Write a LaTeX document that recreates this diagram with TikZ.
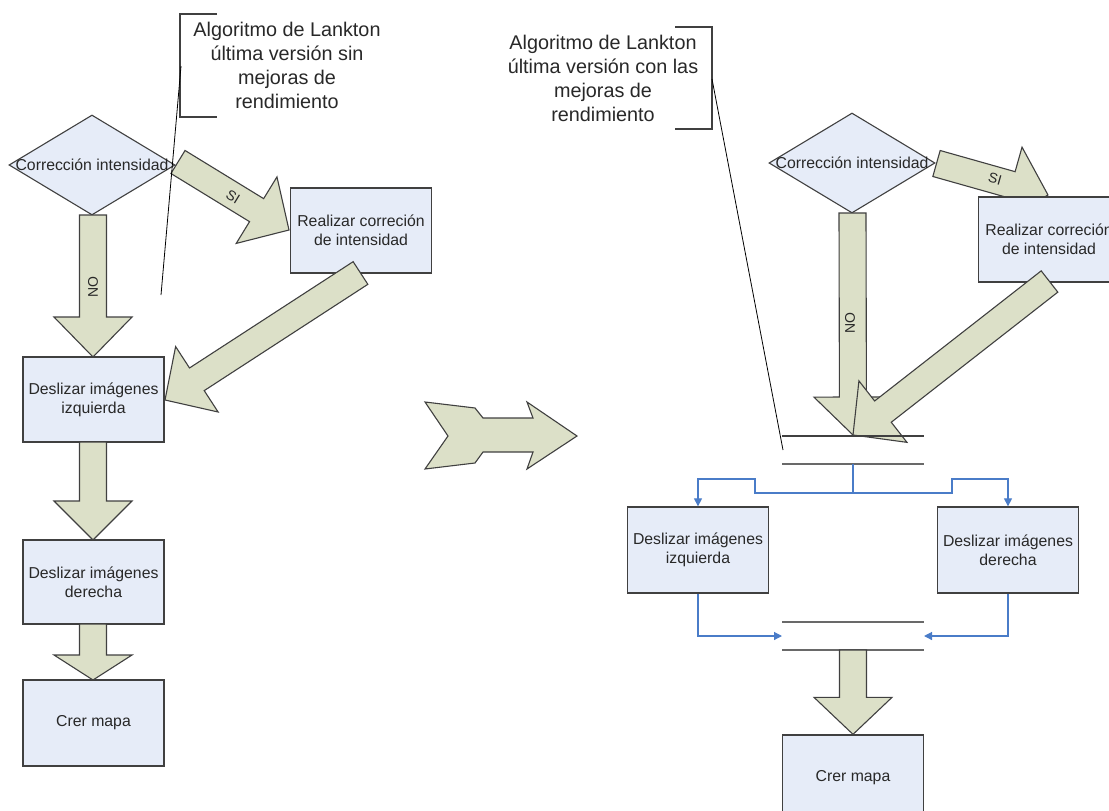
\documentclass[tikz,border=0pt]{standalone}
\usepackage{fontspec}
\setmainfont{Liberation Sans}
\usetikzlibrary{calc,shapes.geometric,arrows.meta}

\definecolor{boxfill}{RGB}{230,236,248}
\definecolor{arrowfill}{RGB}{220,224,200}
\definecolor{edge}{RGB}{64,64,64}
\definecolor{flow}{RGB}{74,124,200}
\definecolor{barcol}{RGB}{105,105,105}
\definecolor{txt}{RGB}{40,40,40}

\tikzset{
  stepbox/.style={draw=edge, line width=1.3pt, fill=boxfill, minimum width=141pt,
    minimum height=85pt, inner sep=0pt, text=txt, align=center,
    font=\fontsize{15.8}{19}\selectfont},
  decision/.style={diamond, draw=edge, line width=1.1pt, fill=boxfill,
    minimum width=166pt, minimum height=100pt, inner sep=0pt},
  decisiontext/.style={text=txt, inner sep=0pt, font=\fontsize{15.8}{19}\selectfont},
  blockarrow/.style={draw=edge, line width=1.1pt, fill=arrowfill, line join=miter},
  note/.style={text=txt, align=center, font=\fontsize{19.8}{24}\selectfont},
  armlabel/.style={text=txt, inner sep=0pt, font=\fontsize{14}{16}\selectfont},
  callout/.style={draw=black, line width=0.8pt},
  bracketline/.style={draw=edge, line width=1.3pt},
  syncbar/.style={draw=barcol, line width=1.8pt},
  flowline/.style={draw=flow, line width=1.2pt, -{Triangle[length=8pt,width=8pt]}},
}

% block arrow: [extra style]{tail}{tip}{head length}
\newcommand{\blockarrow}[4][]{%
  \coordinate (ba-h) at ($(#3)!#4!(#2)$);
  \path[blockarrow,#1]
    ($(#2)!13.5pt!90:(#3)$) -- ($(ba-h)!13.5pt!90:(#3)$) -- ($(ba-h)!39pt!90:(#3)$)
    -- (#3)
    -- ($(ba-h)!39pt!-90:(#3)$) -- ($(ba-h)!13.5pt!-90:(#3)$) -- ($(#2)!13.5pt!-90:(#3)$)
    -- cycle;}

\begin{document}
\begin{tikzpicture}[x=1pt,y=-1pt]
\path[use as bounding box, clip] (0,0) rectangle (1109,811);

% ---------------- first version (left) ----------------
\node[decision] (d1) at (92,165) {};
\node[decisiontext] (d1t) at (d1) {Corrección intensidad};
\node[stepbox] (r1) at (361,230.5) {Realizar correción\\de intensidad};
\node[stepbox] (li1) at (93.5,399.5) {Deslizar imágenes\\izquierda};
\node[stepbox, minimum height=84pt] (ld1) at (93.5,582) {Deslizar imágenes\\derecha};
\node[stepbox, minimum height=86pt] (cm1) at (93.5,723) {Crer mapa};

\coordinate (no1a) at (93,215);   \coordinate (no1b) at (93,357);
\coordinate (si1a) at (178,162);  \coordinate (si1b) at (289,230);
\coordinate (dg1a) at (360.5,273); \coordinate (dg1b) at (165,400);
\coordinate (dn1a) at (93,442);   \coordinate (dn1b) at (93,540);
\coordinate (dn2a) at (93,624);   \coordinate (dn2b) at (93,680);

\blockarrow{no1a}{no1b}{40pt}
\blockarrow{si1a}{si1b}{38pt}
\blockarrow{dg1a}{dg1b}{38pt}
\blockarrow{dn1a}{dn1b}{39pt}
\blockarrow{dn2a}{dn2b}{25pt}

\node[armlabel, rotate=90] (no1l) at (93,287) {NO};
\node[armlabel, rotate=-31.5] (si1l) at (233,197) {SI};

\draw[bracketline] (217,14) -- (180,14) -- (180,117) -- (217,117);
\node[note] (n1) at (287,65) {Algoritmo de Lankton\\última versión sin\\mejoras de\\rendimiento};
\coordinate (c1a) at (181,66); \coordinate (c1b) at (161,295);
\draw[callout] (c1a) -- (c1b);

% ---------------- transition arrow ----------------
\path[blockarrow] (425,402) -- (475,408) -- (483,418) -- (533,418) -- (527,402)
  -- (577,436) -- (527,469) -- (533,452) -- (483,452) -- (475,463) -- (425,469)
  -- (448,436) -- cycle;

% ---------------- improved version (right) ----------------
\coordinate (si2a) at (936.5,163.5); \coordinate (si2b) at (1048,195);
\blockarrow{si2a}{si2b}{38pt}

\node[decision] (d2) at (852,163) {};
\node[decisiontext] (d2t) at (d2) {Corrección intensidad};
\node[stepbox] (r2) at (1049,239.5) {Realizar correción\\de intensidad};

\coordinate (no2a) at (852.5,213);   \coordinate (no2b) at (853,435);
\coordinate (dg2a) at (1049.5,281.5); \coordinate (dg2b) at (853,435);
\blockarrow{no2a}{no2b}{38pt}
\blockarrow{dg2a}{dg2b}{38pt}

\node[armlabel, rotate=90] (no2l) at (850,323) {NO};
\node[armlabel, rotate=-16] (si2l) at (995,179) {SI};

% fork and join bars
\coordinate (f1l) at (782,436); \coordinate (f1r) at (924,436);
\coordinate (f2l) at (782,464); \coordinate (f2r) at (924,464);
\coordinate (j1l) at (782,622); \coordinate (j1r) at (924,622);
\coordinate (j2l) at (782,650); \coordinate (j2r) at (924,650);
\draw[syncbar, line width=1.4pt, draw=edge] (f1l) -- (f1r);
\draw[syncbar] (f2l) -- (f2r);
\draw[syncbar] (j1l) -- (j1r);
\draw[syncbar] (j2l) -- (j2r);

\node[stepbox, minimum height=86pt] (li2) at (698,550) {Deslizar imágenes\\izquierda};
\node[stepbox, minimum height=86pt] (ld2) at (1008,550) {Deslizar imágenes\\derecha};
\node[stepbox, minimum height=86pt] (cm2) at (853,778) {Crer mapa};

\coordinate (fork) at (853,464);
\coordinate (joinl) at (782,636); \coordinate (joinr) at (924,636);
\draw[flowline] (fork) -- (853,493) -- (755,493) -- (755,479) -- (698,479) -- (li2.north);
\draw[flowline] (fork) -- (853,493) -- (952,493) -- (952,479) -- (1008,479) -- (ld2.north);
\draw[flowline] (li2.south) -- (698,636) -- (joinl);
\draw[flowline] (ld2.south) -- (1008,636) -- (joinr);

\coordinate (dn3a) at (853,650); \coordinate (dn3b) at (cm2.north);
\blockarrow{dn3a}{dn3b}{37pt}

\draw[bracketline] (675,27) -- (712,27) -- (712,129) -- (675,129);
\node[note] (n2) at (603,78) {Algoritmo de Lankton\\última versión con las\\mejoras de\\rendimiento};
\coordinate (c2a) at (712,79); \coordinate (c2b) at (783,450);
\draw[callout] (c2a) -- (c2b);
\end{tikzpicture}
\end{document}
